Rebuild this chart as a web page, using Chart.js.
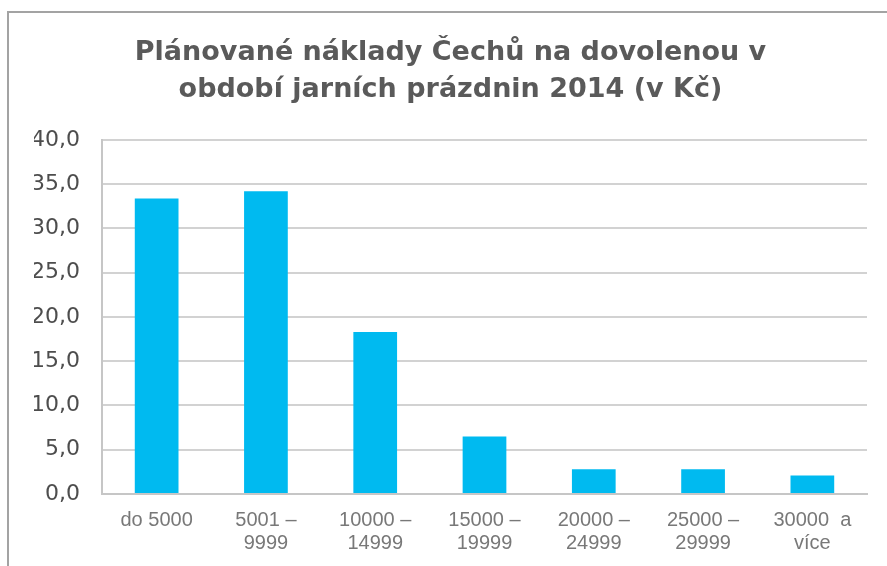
<!DOCTYPE html>
<html>
<head>
<meta charset="utf-8">
<script src="https://cdn.jsdelivr.net/npm/chart.js@4"></script>
<style>
  html, body { margin: 0; padding: 0; background: #ffffff; }
  #wrap { position: relative; width: 887px; height: 566px; overflow: hidden; }
  #frame { position: absolute; left: 7px; top: 11px; width: 900px; height: 600px;
           border-top: 2px solid #a3a3a3; border-left: 2px solid #a3a3a3; box-sizing: border-box; }
  canvas { position: absolute; left: 0; top: 0; }
</style>
</head>
<body>
<div id="wrap">
  <div id="frame"></div>
  <canvas id="c" width="887" height="566"></canvas>
</div>
<script>
// ---- data ----
const titleLines = ['Plánované náklady Čechů na dovolenou v', 'období jarních prázdnin 2014 (v Kč)'];
const categories = [
  ['do 5000'],
  ['5001 –', '9999'],
  ['10000 –', '14999'],
  ['15000 –', '19999'],
  ['20000 –', '24999'],
  ['25000 –', '29999'],
  ['30000  a', 'více']
];
const values = [33.4, 34.2, 18.3, 6.5, 2.8, 2.8, 2.1];
const yMin = 0, yMax = 40, yStep = 5;

const LAYOUT_LEFT = 34, PLOT_LEFT = 102, PLOT_BOTTOM = 494, CANVAS_H = 566;

new Chart(document.getElementById('c'), {
  type: 'bar',
  data: {
    labels: categories,
    datasets: [{
      data: values,
      backgroundColor: '#00BAF0',
      borderWidth: 0,
      categoryPercentage: 1.0,
      barPercentage: 0.4
    }]
  },
  options: {
    responsive: false,
    animation: false,
    events: [],
    layout: { padding: { left: LAYOUT_LEFT, right: 20, top: 0, bottom: 0 } },
    plugins: {
      legend: { display: false },
      tooltip: { enabled: false },
      title: {
        display: true,
        text: titleLines,
        color: '#5a5a5a',
        font: { family: 'DejaVu Sans', size: 27, weight: 'bold', lineHeight: 1.37 },
        padding: { top: 34, bottom: 32 }
      }
    },
    scales: {
      x: {
        grid: { display: false, drawTicks: false },
        border: { display: true, color: '#c6c6c6', width: 2 },
        ticks: {
          color: '#787878',
          font: { family: 'Liberation Sans', size: 20, lineHeight: 1.15 },
          padding: 15,
          maxRotation: 0, autoSkip: false
        },
        afterFit(scale) { scale.height = CANVAS_H - PLOT_BOTTOM; }
      },
      y: {
        min: yMin, max: yMax,
        grid: { color: '#d2d2d2', lineWidth: 2, drawTicks: false },
        border: { display: true, color: '#c6c6c6', width: 2 },
        ticks: {
          stepSize: yStep,
          color: '#4d4d4d',
          font: { family: 'DejaVu Sans', size: 22 },
          padding: 22,
          callback: v => v.toFixed(1).replace('.', ',')
        },
        afterFit(scale) { scale.width = PLOT_LEFT - LAYOUT_LEFT; }
      }
    }
  }
});
</script>
</body>
</html>
